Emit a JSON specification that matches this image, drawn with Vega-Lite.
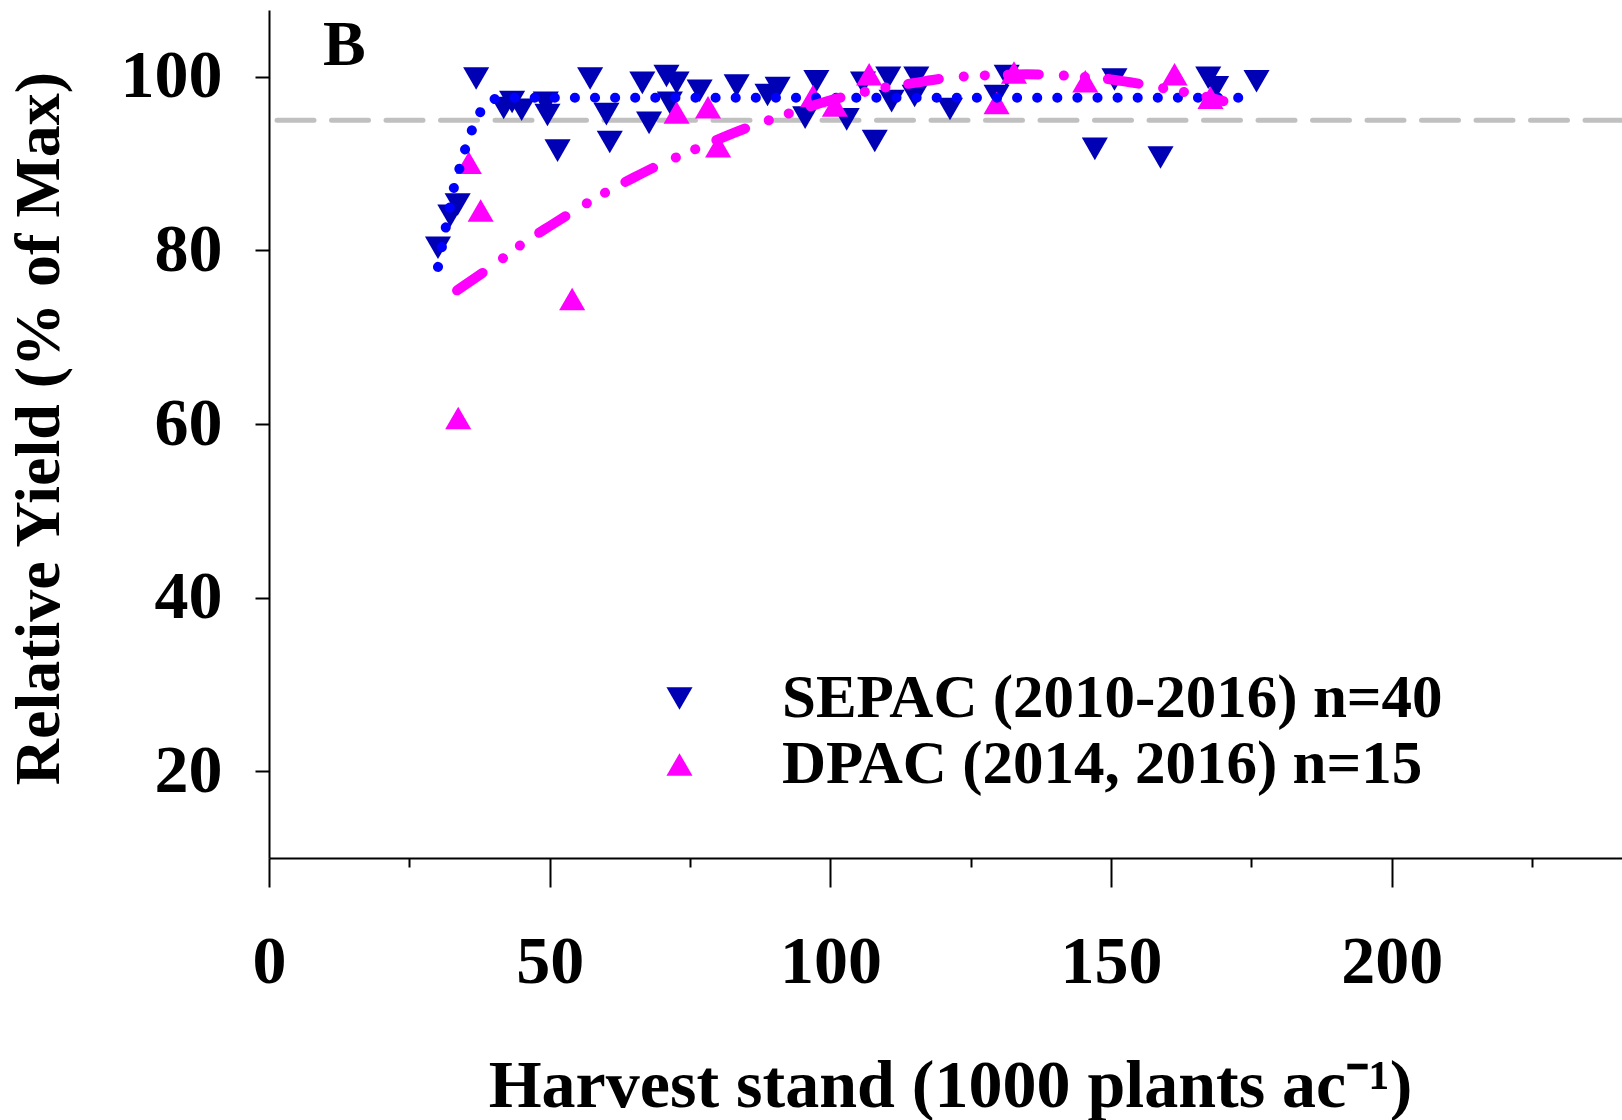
{
  "$schema": "https://vega.github.io/schema/vega-lite/v6.json",
  "width": 1353,
  "height": 848,
  "autosize": {"type": "none"},
  "padding": {"left": 269, "top": 10, "right": 0, "bottom": 262},
  "background": "white",
  "config": {
    "view": {"stroke": null},
    "font": "Liberation Serif",
    "axis": {
      "grid": false,
      "domainColor": "black",
      "domainWidth": 2,
      "tickColor": "black",
      "tickWidth": 2,
      "labelFont": "Liberation Serif",
      "labelFontWeight": "bold",
      "labelFontSize": 68,
      "labelColor": "black",
      "titleFont": "Liberation Serif",
      "titleFontWeight": "bold",
      "titleColor": "black"
    }
  },
  "datasets": {
    "pts": [
      {"x": 30.1, "y": 80.3, "s": "SEPAC (2010-2016) n=40"},
      {"x": 32.3, "y": 84.0, "s": "SEPAC (2010-2016) n=40"},
      {"x": 33.6, "y": 85.3, "s": "SEPAC (2010-2016) n=40"},
      {"x": 36.9, "y": 99.8, "s": "SEPAC (2010-2016) n=40"},
      {"x": 41.8, "y": 96.4, "s": "SEPAC (2010-2016) n=40"},
      {"x": 43.3, "y": 97.1, "s": "SEPAC (2010-2016) n=40"},
      {"x": 49.3, "y": 97.0, "s": "SEPAC (2010-2016) n=40"},
      {"x": 49.6, "y": 95.6, "s": "SEPAC (2010-2016) n=40"},
      {"x": 51.4, "y": 91.5, "s": "SEPAC (2010-2016) n=40"},
      {"x": 57.2, "y": 99.8, "s": "SEPAC (2010-2016) n=40"},
      {"x": 60.1, "y": 95.7, "s": "SEPAC (2010-2016) n=40"},
      {"x": 60.7, "y": 92.5, "s": "SEPAC (2010-2016) n=40"},
      {"x": 66.5, "y": 99.3, "s": "SEPAC (2010-2016) n=40"},
      {"x": 67.7, "y": 94.7, "s": "SEPAC (2010-2016) n=40"},
      {"x": 70.8, "y": 100.1, "s": "SEPAC (2010-2016) n=40"},
      {"x": 72.6, "y": 99.3, "s": "SEPAC (2010-2016) n=40"},
      {"x": 71.4, "y": 97.0, "s": "SEPAC (2010-2016) n=40"},
      {"x": 76.7, "y": 98.4, "s": "SEPAC (2010-2016) n=40"},
      {"x": 83.3, "y": 99.0, "s": "SEPAC (2010-2016) n=40"},
      {"x": 88.8, "y": 97.9, "s": "SEPAC (2010-2016) n=40"},
      {"x": 90.6, "y": 98.7, "s": "SEPAC (2010-2016) n=40"},
      {"x": 97.5, "y": 99.5, "s": "SEPAC (2010-2016) n=40"},
      {"x": 95.5, "y": 95.3, "s": "SEPAC (2010-2016) n=40"},
      {"x": 102.9, "y": 95.1, "s": "SEPAC (2010-2016) n=40"},
      {"x": 107.9, "y": 92.6, "s": "SEPAC (2010-2016) n=40"},
      {"x": 110.3, "y": 99.9, "s": "SEPAC (2010-2016) n=40"},
      {"x": 110.9, "y": 97.2, "s": "SEPAC (2010-2016) n=40"},
      {"x": 115.3, "y": 99.9, "s": "SEPAC (2010-2016) n=40"},
      {"x": 115.0, "y": 97.8, "s": "SEPAC (2010-2016) n=40"},
      {"x": 105.8, "y": 99.3, "s": "SEPAC (2010-2016) n=40"},
      {"x": 121.3, "y": 96.3, "s": "SEPAC (2010-2016) n=40"},
      {"x": 129.6, "y": 97.8, "s": "SEPAC (2010-2016) n=40"},
      {"x": 131.4, "y": 100.1, "s": "SEPAC (2010-2016) n=40"},
      {"x": 150.6, "y": 99.7, "s": "SEPAC (2010-2016) n=40"},
      {"x": 147.1, "y": 91.7, "s": "SEPAC (2010-2016) n=40"},
      {"x": 158.8, "y": 90.7, "s": "SEPAC (2010-2016) n=40"},
      {"x": 167.3, "y": 99.9, "s": "SEPAC (2010-2016) n=40"},
      {"x": 168.7, "y": 98.8, "s": "SEPAC (2010-2016) n=40"},
      {"x": 175.9, "y": 99.5, "s": "SEPAC (2010-2016) n=40"},
      {"x": 45.0, "y": 96.2, "s": "SEPAC (2010-2016) n=40"},
      {"x": 35.6, "y": 90.1, "s": "DPAC (2014, 2016) n=15"},
      {"x": 37.7, "y": 84.6, "s": "DPAC (2014, 2016) n=15"},
      {"x": 54.0, "y": 74.4, "s": "DPAC (2014, 2016) n=15"},
      {"x": 33.7, "y": 60.7, "s": "DPAC (2014, 2016) n=15"},
      {"x": 72.6, "y": 95.9, "s": "DPAC (2014, 2016) n=15"},
      {"x": 78.2, "y": 96.5, "s": "DPAC (2014, 2016) n=15"},
      {"x": 80.0, "y": 92.0, "s": "DPAC (2014, 2016) n=15"},
      {"x": 96.9, "y": 97.8, "s": "DPAC (2014, 2016) n=15"},
      {"x": 100.8, "y": 96.7, "s": "DPAC (2014, 2016) n=15"},
      {"x": 106.9, "y": 100.3, "s": "DPAC (2014, 2016) n=15"},
      {"x": 129.6, "y": 97.0, "s": "DPAC (2014, 2016) n=15"},
      {"x": 132.7, "y": 100.5, "s": "DPAC (2014, 2016) n=15"},
      {"x": 145.4, "y": 99.5, "s": "DPAC (2014, 2016) n=15"},
      {"x": 161.3, "y": 100.3, "s": "DPAC (2014, 2016) n=15"},
      {"x": 167.7, "y": 97.6, "s": "DPAC (2014, 2016) n=15"}
    ],
    "fitS": [
      {"x": 30.1, "y": 78.1},
      {"x": 31.5, "y": 82.7},
      {"x": 32.2, "y": 85.0},
      {"x": 33.0, "y": 87.4},
      {"x": 34.0, "y": 89.6},
      {"x": 35.0, "y": 91.8},
      {"x": 36.3, "y": 94.1},
      {"x": 38.2, "y": 96.5},
      {"x": 40.0, "y": 97.4},
      {"x": 41.7, "y": 97.6},
      {"x": 173.5, "y": 97.6}
    ],
    "fitD": [
      {"x": 33.5, "y": 75.4},
      {"x": 40, "y": 78.3},
      {"x": 45, "y": 80.7},
      {"x": 50, "y": 82.8},
      {"x": 55, "y": 84.8},
      {"x": 60, "y": 86.7},
      {"x": 65, "y": 88.4},
      {"x": 70, "y": 90.0},
      {"x": 75, "y": 91.4},
      {"x": 80, "y": 92.8},
      {"x": 85, "y": 94.1},
      {"x": 90, "y": 95.2},
      {"x": 95, "y": 96.3},
      {"x": 100, "y": 97.3},
      {"x": 105, "y": 98.1},
      {"x": 110, "y": 98.8},
      {"x": 115, "y": 99.3},
      {"x": 120, "y": 99.8},
      {"x": 125, "y": 100.1},
      {"x": 130, "y": 100.2},
      {"x": 135, "y": 100.3},
      {"x": 140, "y": 100.2},
      {"x": 145, "y": 100.0},
      {"x": 150, "y": 99.7},
      {"x": 155, "y": 99.2},
      {"x": 160, "y": 98.6},
      {"x": 165, "y": 98.0},
      {"x": 170, "y": 97.2}
    ]
  },
  "layer": [
    {
      "data": {"values": [{"y": 95}]},
      "mark": {"type": "rule", "color": "#C0C0C0", "strokeWidth": 5, "strokeDash": [37, 17.5], "strokeCap": "round"},
      "encoding": {
        "y": {"field": "y", "type": "quantitative", "scale": {"domain": [10, 107.7], "nice": false, "zero": false}}
      }
    },
    {
      "data": {"name": "pts"},
      "mark": {"type": "point", "filled": true, "size": 680, "opacity": 1, "strokeWidth": 0},
      "encoding": {
        "x": {
          "field": "x", "type": "quantitative",
          "scale": {"domain": [0, 241], "nice": false, "zero": false},
          "axis": {
            "title": "Harvest stand (1000 plants ac⁻¹)",
            "titleFontSize": 68,
            "titleX": 681,
            "titleY": 228,
            "titleBaseline": "middle",
            "values": [0, 25, 50, 75, 100, 125, 150, 175, 200, 225],
            "labelExpr": "datum.value % 50 == 0 ? datum.label : ''",
            "tickSize": {"condition": {"test": "datum.value % 50 == 0", "value": 29}, "value": 9},
            "labelPadding": 75,
            "labelBaseline": "middle",
            "labelFlush": false,
            "labelOverlap": false
          }
        },
        "y": {
          "field": "y", "type": "quantitative",
          "scale": {"domain": [10, 107.7], "nice": false, "zero": false},
          "axis": {
            "title": "Relative Yield (% of Max)",
            "titleFontSize": 64,
            "titleX": -230,
            "titleY": 418,
            "titleBaseline": "middle",
            "titleAngle": -90,
            "values": [20, 40, 60, 80, 100],
            "tickSize": 14,
            "labelPadding": 33,
            "labelFlush": false
          }
        },
        "color": {
          "field": "s", "type": "nominal",
          "scale": {"domain": ["SEPAC (2010-2016) n=40", "DPAC (2014, 2016) n=15"], "range": ["#0000B4", "#FF00FF"]},
          "legend": {
            "title": null,
            "orient": "none",
            "legendX": 380,
            "legendY": 658,
            "labelFont": "Liberation Serif",
            "labelFontSize": 61,
            "labelFontWeight": "bold",
            "labelColor": "black",
            "symbolSize": 680,
            "symbolStrokeWidth": 0,
            "labelOffset": 72,
            "rowPadding": 4,
            "padding": 0,
            "labelLimit": 1000
          }
        },
        "shape": {
          "field": "s", "type": "nominal",
          "scale": {"domain": ["SEPAC (2010-2016) n=40", "DPAC (2014, 2016) n=15"], "range": ["triangle-down", "triangle-up"]},
          "legend": null
        }
      }
    },
    {
      "data": {"name": "fitS"},
      "mark": {"type": "line", "color": "#0000FF", "strokeWidth": 10, "strokeDash": [0.1, 20], "strokeCap": "round", "interpolate": "monotone"},
      "encoding": {
        "x": {"field": "x", "type": "quantitative"},
        "y": {"field": "y", "type": "quantitative"}
      }
    },
    {
      "data": {"name": "fitD"},
      "mark": {"type": "line", "color": "#FF00FF", "strokeWidth": 10, "strokeDash": [31, 25, 0.1, 21, 0.1, 23], "strokeCap": "round", "interpolate": "monotone"},
      "encoding": {
        "x": {"field": "x", "type": "quantitative"},
        "y": {"field": "y", "type": "quantitative"}
      }
    },
    {
      "data": {"values": [{"x": 13.4, "y": 103.5, "t": "B"}]},
      "mark": {"type": "text", "font": "Liberation Serif", "fontWeight": "bold", "fontSize": 64, "color": "black", "align": "center", "baseline": "middle"},
      "encoding": {
        "x": {"field": "x", "type": "quantitative"},
        "y": {"field": "y", "type": "quantitative"},
        "text": {"field": "t"}
      }
    }
  ]
}
